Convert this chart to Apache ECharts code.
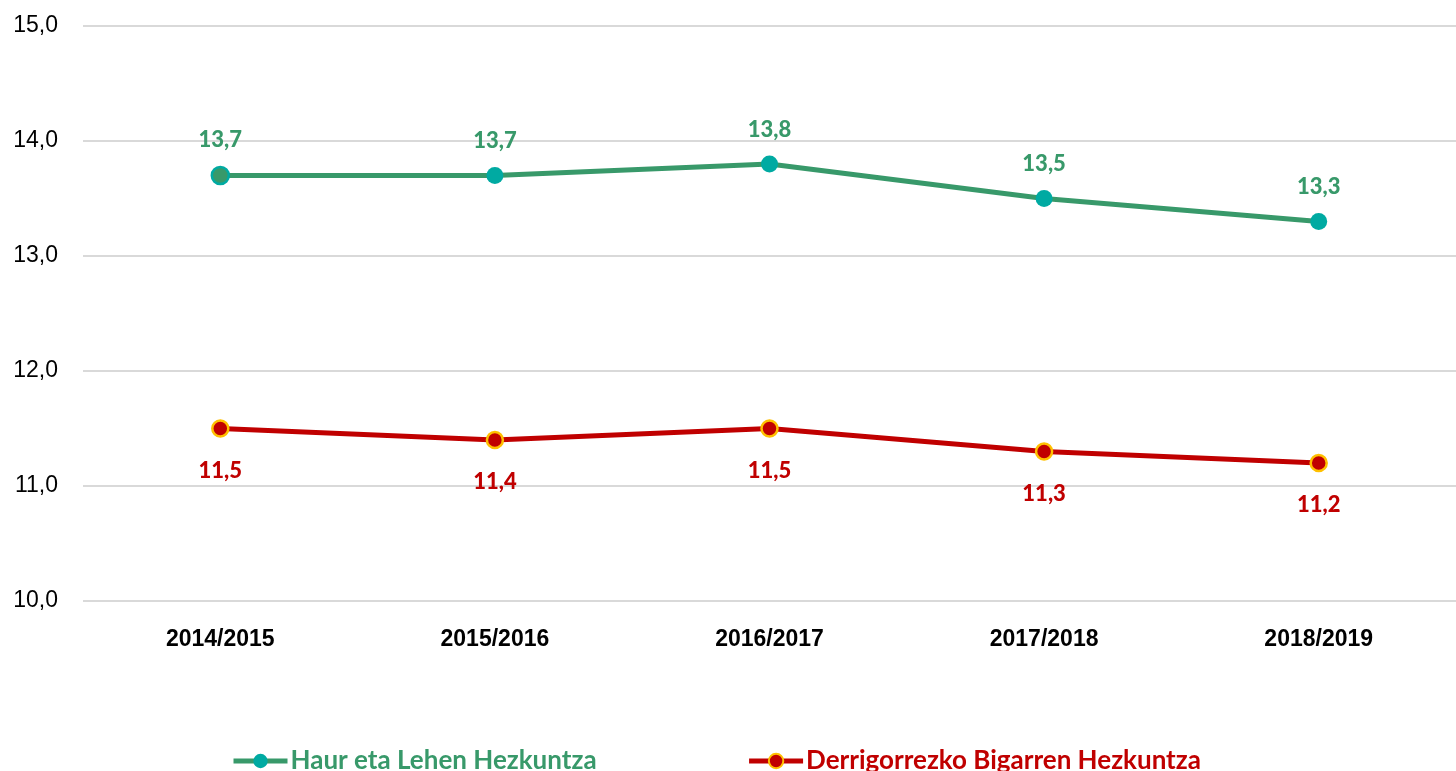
<!DOCTYPE html>
<html>
<head>
<meta charset="utf-8">
<script src="https://cdn.jsdelivr.net/npm/echarts@6/dist/echarts.min.js"></script>
<style>
    html, body { margin: 0; padding: 0; background: #fff; }
    #contain { width: 1456px; height: 771px; }
</style>
</head>
<body>
<div id="contain"></div>
<script>
var categories = ["2014/2015", "2015/2016", "2016/2017", "2017/2018", "2018/2019"];
var seriesNames = ["Haur eta Lehen Hezkuntza", "Derrigorrezko Bigarren Hezkuntza"];
var haurLehen = [13.7, 13.7, 13.8, 13.5, 13.3];
var derrigorrezko = [11.5, 11.4, 11.5, 11.3, 11.2];
var yTicks = { min: 10, max: 15, interval: 1 };

var GREEN = "#38996a";
var TEAL = "#00aaa2";
var RED = "#c00000";
var GOLD = "#ffc000";

/* koma hamartarrekin */
function fmt(v) {
    return Number(v).toFixed(1).replace(".", ",");
}

/* lehen puntua berdea da, besteak turkesak */
var greenData = haurLehen.map(function (v, i) {
    if (i === 0) {
        return { value: v, itemStyle: { color: GREEN, borderColor: TEAL, borderWidth: 2.5 } };
    }
    return v;
});

var myChart = echarts.init(document.getElementById("contain"));
myChart.setOption({
    animation: false,
    grid: {
        left: 83,
        right: -10,
        top: 26,
        bottom: 170,
        containLabel: false
    },
    legend: {
        top: 743,
        left: 226,
        itemWidth: 54,
        itemHeight: 18,
        itemGap: 150,
        lineStyle: { width: 5 },
        data: [
            { name: seriesNames[0], textStyle: { color: GREEN } },
            { name: seriesNames[1], textStyle: { color: RED } }
        ],
        textStyle: {
            fontFamily: 'Lato',
            fontWeight: 'bold',
            fontSize: 26,
            padding: [0, 0, 0, -2]
        }
    },
    xAxis: {
        type: 'category',
        data: categories,
        boundaryGap: true,
        axisLine: { show: false },
        axisTick: { show: false },
        axisLabel: {
            margin: 27,
            color: '#000',
            fontFamily: 'Liberation Sans Narrow, Arial Narrow, Liberation Sans',
            fontWeight: 'bold',
            fontSize: 23
        }
    },
    yAxis: {
        type: 'value',
        min: yTicks.min,
        max: yTicks.max,
        interval: yTicks.interval,
        axisLine: { show: false },
        axisTick: { show: false },
        splitLine: { lineStyle: { color: '#d9d9d9', width: 2 } },
        axisLabel: {
            margin: 25,
            color: '#000',
            fontFamily: 'Liberation Sans',
            fontSize: 23,
            formatter: fmt
        }
    },
    series: [
        {
            name: seriesNames[0],
            type: 'line',
            data: greenData,
            symbol: 'circle',
            symbolSize: 17,
            lineStyle: { color: GREEN, width: 5 },
            itemStyle: { color: TEAL },
            label: {
                show: true,
                position: 'top',
                distance: 15,
                color: GREEN,
                fontFamily: 'Lato',
                fontWeight: 900,
                fontSize: 22,
                formatter: function (p) { return fmt(p.value); }
            }
        },
        {
            name: seriesNames[1],
            type: 'line',
            data: derrigorrezko,
            symbol: 'circle',
            symbolSize: 16,
            lineStyle: { color: RED, width: 5 },
            itemStyle: { color: RED, borderColor: GOLD, borderWidth: 2.5 },
            label: {
                show: true,
                position: 'bottom',
                distance: 22,
                color: RED,
                fontFamily: 'Lato',
                fontWeight: 900,
                fontSize: 22,
                formatter: function (p) { return fmt(p.value); }
            }
        }
    ]
});
</script>
</body>
</html>
